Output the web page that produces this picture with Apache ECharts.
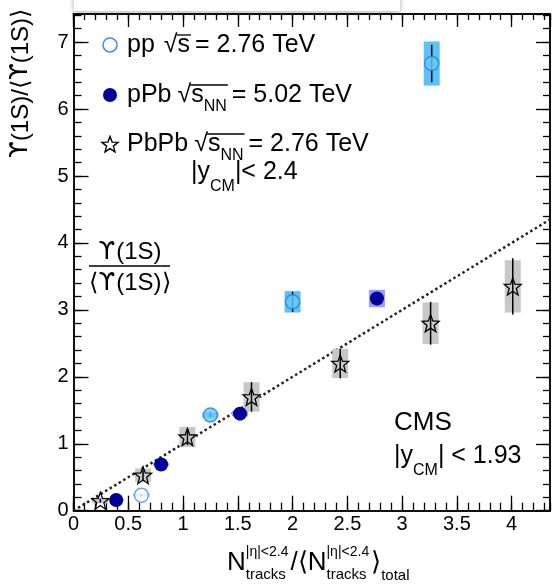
<!DOCTYPE html>
<html>
<head>
<meta charset="utf-8">
<script src="https://cdn.jsdelivr.net/npm/echarts@6/dist/echarts.min.js"></script>
<style>
  html, body { margin: 0; padding: 0; background: #fff; }
  #chart { width: 555px; height: 586px; }
</style>
</head>
<body>
<div id="chart"></div>
<script>
// axis ranges and tick labels
const xRange = [0, 4.35];
const yRange = [0, 7.42];
const xMajor = 0.5, xMinor = 0.1;
const yMajor = 1, yMinor = 0.2;

// pp sqrt(s) = 2.76 TeV
const ppX    = [0.62, 1.25, 2.00, 3.27];
const ppY    = [0.23, 1.43, 3.12, 6.68];
const ppStat = [0.02, 0.04, 0.15, 0.28];
const ppSys  = [0.02, 0.04, 0.16, 0.33];

// pPb sqrt(sNN) = 5.02 TeV
const pPbX    = [0.39, 0.80, 1.52, 2.77];
const pPbY    = [0.16, 0.69, 1.45, 3.17];
const pPbStat = [0.02, 0.03, 0.05, 0.08];
const pPbSys  = [0.01, 0.02, 0.04, 0.13];

// PbPb sqrt(sNN) = 2.76 TeV
const pbX    = [0.245, 0.635, 1.04, 1.625, 2.435, 3.26, 4.01];
const pbY    = [0.15, 0.53, 1.10, 1.70, 2.20, 2.80, 3.35];
const pbStat = [0.03, 0.08, 0.12, 0.22, 0.22, 0.32, 0.42];
const pbSys  = [0.04, 0.10, 0.15, 0.22, 0.22, 0.31, 0.39];

// linear reference y = x
const fitX = [0, 4.35];
const fitY = [0, 4.35];

const FONT = '"Liberation Sans", Arial, Helvetica, sans-serif';
const UFONT = '"DejaVu Sans", sans-serif';   // for the hooked upsilon
const BOX_HW = 8;

const chart = echarts.init(document.getElementById('chart'));

// star outline points
function starPoints(cx, cy, rOut, rIn) {
  const pts = [];
  for (let i = 0; i < 10; i++) {
    const r = i % 2 ? rIn : rOut;
    const a = -Math.PI / 2 + i * Math.PI / 5;
    pts.push([cx + r * Math.cos(a), cy + r * Math.sin(a)]);
  }
  return pts;
}
const STAR = 'path://' + starPoints(0, 0, 10, 4.2)
  .map((p, i) => (i ? 'L' : 'M') + p[0].toFixed(3) + ' ' + p[1].toFixed(3)).join('') + 'Z';

// --- small typesetter for sub/superscripts ---
const mctx = document.createElement('canvas').getContext('2d');
function fontOf(f, fam) { return f + 'px ' + (fam || FONT); }
function textW(s, f, fam) { mctx.font = fontOf(f, fam); return mctx.measureText(s).width; }
function textEl(s, x, base, f, fam) {
  return {
    type: 'text', z: 50, silent: true,
    style: { text: s, x: x, y: base - 0.35 * f, font: fontOf(f, fam), fill: '#000',
             textAlign: 'left', textVerticalAlign: 'middle' }
  };
}
// parts: {s, f, dy, back, gap, ff}
function typeset(x0, base, parts) {
  const els = [], pos = [];
  let x = x0, lastStart = x0, lastEnd = x0;
  parts.forEach(p => {
    const start = p.back ? lastStart : x + (p.gap || 0);
    const w = textW(p.s, p.f, p.ff);
    els.push(textEl(p.s, start, base + (p.dy || 0), p.f, p.ff));
    const end = start + w;
    x = p.back ? Math.max(lastEnd, end) : end;
    pos.push({ start, end });
    lastStart = start; lastEnd = x;
  });
  return { els, pos, end: x };
}
function overline(pos, i, j, y) {
  return { type: 'line', z: 50, silent: true,
    shape: { x1: pos[i].end - 1, y1: y, x2: pos[j].end + 1, y2: y },
    style: { stroke: '#000', lineWidth: 1.3 } };
}
function shift(els, dx) {
  els.forEach(e => { e.style.x += dx; });
  return els;
}

const graphics = [];

// legend
const LX = 110, LT = 127, LF = 25;
const rows = [45, 95, 144];
graphics.push({ type: 'circle', z: 50, shape: { cx: LX, cy: rows[0], r: 7 },
  style: { fill: '#fff', stroke: '#4a86d8', lineWidth: 1.5 } });
graphics.push({ type: 'circle', z: 50, shape: { cx: LX, cy: rows[1], r: 7 },
  style: { fill: '#000099' } });
graphics.push({ type: 'polygon', z: 50,
  shape: { points: starPoints(LX, rows[2] + 1, 8.5, 3.6) },
  style: { fill: 'none', stroke: '#000', lineWidth: 1.4 } });

let t = typeset(LT, rows[0] + 9, [
  { s: 'pp', f: LF }, { s: '√', f: LF, gap: 9 }, { s: 's', f: LF },
  { s: '= 2.76 TeV', f: LF, gap: 5 }]);
graphics.push(...t.els, overline(t.pos, 1, 2, rows[0] - 10));

t = typeset(LT, rows[1] + 9, [
  { s: 'pPb', f: LF }, { s: '√', f: LF, gap: 6 }, { s: 's', f: LF },
  { s: 'NN', f: 16, dy: 8 }, { s: '= 5.02 TeV', f: LF, gap: 5 }]);
graphics.push(...t.els, overline(t.pos, 1, 3, rows[1] - 10));

t = typeset(LT, rows[2] + 9, [
  { s: 'PbPb', f: LF }, { s: '√', f: LF, gap: 6 }, { s: 's', f: LF },
  { s: 'NN', f: 16, dy: 8 }, { s: '= 2.76 TeV', f: LF, gap: 5 }]);
graphics.push(...t.els, overline(t.pos, 1, 3, rows[2] - 10));

t = typeset(191, 181, [
  { s: '|y', f: LF }, { s: 'CM', f: 16, dy: 11 }, { s: '|< 2.4', f: LF }]);
graphics.push(...t.els);

// fraction label
const FF = 24;
const num = typeset(0, 261, [{ s: 'ϒ', f: FF, ff: UFONT }, { s: '(1S)', f: FF, gap: 1 }]);
graphics.push(...shift(num.els, 130 - num.end / 2));
graphics.push({ type: 'line', z: 50, shape: { x1: 89, y1: 266, x2: 170, y2: 266 },
  style: { stroke: '#000', lineWidth: 1.3 } });
const den = typeset(0, 292, [{ s: '⟨', f: FF }, { s: 'ϒ', f: FF, ff: UFONT },
  { s: '(1S)⟩', f: FF, gap: 1 }]);
graphics.push(...shift(den.els, 130 - den.end / 2));

// CMS label
graphics.push(textEl('CMS', 394, 432, 26));
t = typeset(394, 465, [
  { s: '|y', f: LF }, { s: 'CM', f: 16, dy: 11 }, { s: '| < 1.93', f: LF }]);
graphics.push(...t.els);

// x axis title
const XF = 26, SUP = 14, SUB = 15;
t = typeset(227, 572, [
  { s: 'N', f: XF }, { s: '|η|<2.4', f: SUP, dy: -15 }, { s: 'tracks', f: SUB, dy: 8, back: true },
  { s: '/⟨', f: XF, gap: 2 }, { s: 'N', f: XF }, { s: '|η|<2.4', f: SUP, dy: -15 },
  { s: 'tracks', f: SUB, dy: 8, back: true }, { s: '⟩', f: XF, gap: 2 }, { s: 'total', f: SUB, dy: 9 }]);
graphics.push(...t.els);

// y axis title (rotated, rich text for the upsilon glyph)
graphics.push({ type: 'text', z: 50, silent: true, x: 21, y: 9, rotation: Math.PI / 2,
  style: { text: '{u|ϒ}(1S)/⟨{u|ϒ}(1S)⟩', x: 0, y: 0, font: fontOf(24), fill: '#000',
           textAlign: 'right', textVerticalAlign: 'middle',
           rich: { u: { fontFamily: 'DejaVu Sans', fontSize: 24, fill: '#000' } } } });

// white popup box at top
graphics.push({ type: 'rect', z: 60, silent: true,
  shape: { x: 74, y: -10, width: 326, height: 21 },
  style: { fill: '#fff', shadowBlur: 5, shadowColor: 'rgba(0,0,0,0.35)', shadowOffsetY: 1 } });

// --- axes ---
const axisLine = { show: true, onZero: false, lineStyle: { color: '#000', width: 1.5 } };
function xAx(pos, interval, tickLen, labels) {
  return {
    type: 'value', position: pos, min: xRange[0], max: xRange[1], interval: interval,
    axisLine: axisLine, splitLine: { show: false },
    axisTick: { show: true, inside: true, length: tickLen, lineStyle: { color: '#000', width: 1.3 } },
    axisLabel: labels ? { show: true, color: '#000', fontSize: 20, fontFamily: FONT, margin: 4,
                          showMaxLabel: false } : { show: false }
  };
}
function yAx(pos, interval, tickLen, labels) {
  return {
    type: 'value', position: pos, min: yRange[0], max: yRange[1], interval: interval,
    axisLine: axisLine, splitLine: { show: false },
    axisTick: { show: true, inside: true, length: tickLen, lineStyle: { color: '#000', width: 1.3 } },
    axisLabel: labels ? { show: true, color: '#000', fontSize: 20, fontFamily: FONT, margin: 5,
                          showMaxLabel: false } : { show: false }
  };
}

// --- series builders ---
function boxSeries(xs, ys, err, color) {
  return {
    type: 'custom', z: 2, silent: true, clip: false,
    data: xs.map((x, i) => [x, ys[i], err[i]]),
    renderItem(params, api) {
      const x = api.value(0), y = api.value(1), e = api.value(2);
      const top = api.coord([x, y + e]), bot = api.coord([x, y - e]);
      return { type: 'rect',
        shape: { x: top[0] - BOX_HW, y: top[1], width: BOX_HW * 2, height: bot[1] - top[1] },
        style: { fill: color } };
    }
  };
}
function barSeries(xs, ys, err) {
  return {
    type: 'custom', z: 3, silent: true, clip: false,
    data: xs.map((x, i) => [x, ys[i], err[i]]),
    renderItem(params, api) {
      const x = api.value(0), y = api.value(1), e = api.value(2);
      const top = api.coord([x, y + e]), bot = api.coord([x, y - e]);
      return { type: 'line',
        shape: { x1: top[0], y1: top[1], x2: bot[0], y2: bot[1] },
        style: { stroke: '#000', lineWidth: 1.5 } };
    }
  };
}

const ppData = ppX.map((x, i) => ({
  value: [x, ppY[i]],
  itemStyle: i === 0 ? { color: '#fff', borderColor: '#4a90e8', borderWidth: 1.5 }
                     : { color: '#66ccff', borderColor: '#2f7fd8', borderWidth: 1.5 }
}));

const option = {
  animation: false,
  backgroundColor: '#fff',
  grid: { left: 73.5, right: 5, top: 14, bottom: 75.3 },
  xAxis: [
    xAx('bottom', xMajor, 15, true),
    xAx('bottom', xMinor, 8, false),
    xAx('top', xMajor, 13, false),
    xAx('top', xMinor, 6, false)
  ],
  yAxis: [
    yAx('left', yMajor, 15, true),
    yAx('left', yMinor, 8, false),
    yAx('right', yMajor, 14, false),
    yAx('right', yMinor, 7, false)
  ],
  series: [
    {
      type: 'line', z: 1, silent: true, symbol: 'none',
      data: fitX.map((x, i) => [x, fitY[i]]),
      lineStyle: { color: '#222', width: 2.5, type: [2.5, 2.8] }
    },
    boxSeries(ppX, ppY, ppSys, '#5cc0fa'),
    boxSeries(pPbX, pPbY, pPbSys, '#9a9aff'),
    boxSeries(pbX, pbY, pbSys, '#c8c8c8'),
    barSeries(ppX, ppY, ppStat),
    barSeries(pbX, pbY, pbStat),
    {
      type: 'scatter', z: 4, silent: true, symbol: 'circle', symbolSize: 14,
      data: pPbX.map((x, i) => [x, pPbY[i]]),
      itemStyle: { color: '#000099', opacity: 1 }
    },
    {
      type: 'scatter', z: 4, silent: true, symbol: 'circle', symbolSize: 14,
      data: ppData
    },
    {
      type: 'scatter', z: 4, silent: true, symbol: STAR, symbolSize: 17,
      data: pbX.map((x, i) => [x, pbY[i]]),
      itemStyle: { color: 'rgba(0,0,0,0)', borderColor: '#000', borderWidth: 1.3, opacity: 1 }
    }
  ],
  graphic: graphics
};
chart.setOption(option);
</script>
</body>
</html>
